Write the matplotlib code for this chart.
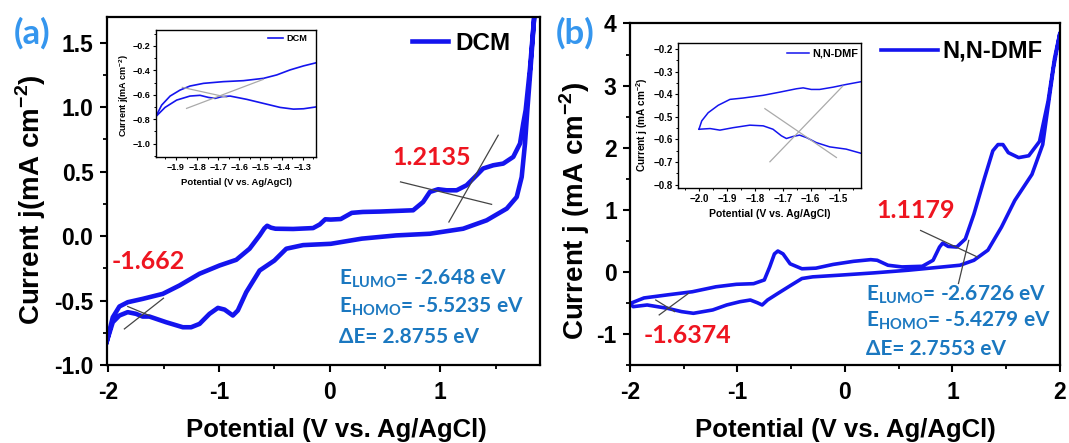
import matplotlib
matplotlib.use('Agg')
import matplotlib.pyplot as plt
from matplotlib.ticker import MultipleLocator

# ---- (a) DCM : anodic branch then cathodic branch ----
dcm_x_fwd = [-2.015, -1.96, -1.90, -1.825, -1.69, -1.508, -1.357, -1.176, -0.995, -0.844,
             -0.724, -0.633, -0.59, -0.565, -0.53, -0.49, -0.33, -0.15, -0.09, -0.04,
             0.01, 0.1, 0.2, 0.3, 0.452, 0.754, 0.844, 0.905, 0.98, 1.056,
             1.147, 1.237, 1.328, 1.387, 1.478, 1.568, 1.659, 1.72, 1.749, 1.771,
             1.81, 1.85]
dcm_j_fwd = [-0.82, -0.63, -0.546, -0.513, -0.487, -0.448, -0.383, -0.292, -0.228, -0.184,
             -0.098, 0.005, 0.06, 0.08, 0.065, 0.057, 0.055, 0.062, 0.09, 0.13,
             0.128, 0.132, 0.18, 0.187, 0.19, 0.2, 0.264, 0.342, 0.363, 0.355,
             0.355, 0.394, 0.472, 0.524, 0.549, 0.562, 0.614, 0.718, 0.873, 0.977,
             1.3, 1.72]
dcm_x_rev = [1.85, 1.815, 1.786, 1.765, 1.735, 1.69, 1.6, 1.418, 1.206, 0.905,
             0.6, 0.29, 0.01, -0.24, -0.392, -0.5, -0.633, -0.754, -0.83, -0.875,
             -0.95, -1.01, -1.086, -1.176, -1.252, -1.327, -1.478, -1.629, -1.69, -1.75,
             -1.825, -1.90, -1.96, -2.015]
dcm_j_rev = [1.72, 1.3, 0.977, 0.718, 0.458, 0.303, 0.213, 0.122, 0.057, 0.018,
             0.005, -0.02, -0.06, -0.07, -0.098, -0.19, -0.267, -0.435, -0.577, -0.616,
             -0.57, -0.557, -0.603, -0.681, -0.707, -0.707, -0.668, -0.624, -0.624, -0.603,
             -0.59, -0.616, -0.668, -0.82]
dcm_tangents = [([0.64, 1.463], [0.42, 0.246]), ([1.077, 1.523], [0.109, 0.782]),
                ([-1.855, -1.502], [-0.72, -0.482]), ([-1.825, -1.629], [-0.546, -0.616])]

# inset (a)
dcm_in_x_up = [-1.996, -1.968, -1.928, -1.881, -1.834, -1.77, -1.676, -1.581, -1.486, -1.423,
               -1.36, -1.296, -1.233]
dcm_in_j_up = [-0.78, -0.685, -0.611, -0.562, -0.529, -0.507, -0.493, -0.485, -0.466, -0.438,
               -0.397, -0.364, -0.337]
dcm_in_x_lo = [-1.996, -1.952, -1.897, -1.834, -1.786, -1.747, -1.715, -1.684, -1.644, -1.565,
               -1.486, -1.407, -1.344, -1.296, -1.233]
dcm_in_j_lo = [-0.78, -0.704, -0.644, -0.611, -0.605, -0.622, -0.63, -0.616, -0.611, -0.638,
               -0.671, -0.704, -0.718, -0.715, -0.699]
dcm_in_tangents = [([-1.85, -1.486], [-0.712, -0.474]), ([-1.87, -1.66], [-0.54, -0.62])]

# ---- (b) N,N-DMF ----
dmf_x_fwd = [-2.0, -1.87, -1.65, -1.42, -1.2, -1.01, -0.85, -0.75, -0.70, -0.656,
             -0.624, -0.576, -0.51, -0.4, -0.27, -0.11, 0.08, 0.24, 0.3, 0.4,
             0.53, 0.72, 0.82, 0.88, 0.91, 0.96, 1.04, 1.12, 1.2, 1.3,
             1.376, 1.424, 1.47, 1.52, 1.616, 1.71, 1.81, 1.89, 1.95, 2.0]
dmf_j_fwd = [-0.51, -0.42, -0.37, -0.32, -0.24, -0.2, -0.19, -0.13, 0.08, 0.29,
             0.336, 0.29, 0.13, 0.05, 0.06, 0.12, 0.17, 0.197, 0.187, 0.107,
             0.08, 0.09, 0.187, 0.4, 0.464, 0.41, 0.4, 0.53, 0.93, 1.52,
             1.95, 2.05, 2.05, 1.92, 1.84, 1.87, 2.1, 2.75, 3.44, 3.85]
dmf_x_rev = [2.0, 1.94, 1.84, 1.74, 1.58, 1.456, 1.33, 1.2, 1.07, 0.91,
             0.59, 0.27, -0.05, -0.3, -0.4, -0.5, -0.624, -0.72, -0.77, -0.816,
             -0.88, -0.976, -1.1, -1.23, -1.41, -1.52, -1.65, -1.84, -1.97, -2.0]
dmf_j_rev = [3.85, 3.28, 2.05, 1.57, 1.15, 0.72, 0.35, 0.187, 0.107, 0.08,
             0.027, -0.016, -0.053, -0.08, -0.107, -0.213, -0.347, -0.453, -0.533, -0.496,
             -0.453, -0.48, -0.533, -0.613, -0.667, -0.64, -0.587, -0.533, -0.56, -0.51]
dmf_tangents = [([0.704, 1.232], [0.667, 0.24]), ([1.056, 1.152], [-0.187, 0.507]),
                ([-1.76, -1.584], [-0.453, -0.64]), ([-1.728, -1.456], [-0.693, -0.347])]

# inset (b)
dmf_in_x_up = [-2.0, -1.99, -1.967, -1.931, -1.889, -1.842, -1.77, -1.711, -1.651, -1.627,
               -1.598, -1.568, -1.52, -1.473, -1.421]
dmf_in_j_up = [-0.555, -0.518, -0.482, -0.449, -0.423, -0.417, -0.405, -0.391, -0.376, -0.372,
               -0.379, -0.379, -0.369, -0.357, -0.345]
dmf_in_x_lo = [-2.0, -1.96, -1.925, -1.877, -1.818, -1.77, -1.735, -1.705, -1.687, -1.663,
               -1.64, -1.615, -1.58, -1.532, -1.473, -1.421]
dmf_in_j_lo = [-0.555, -0.552, -0.559, -0.548, -0.537, -0.54, -0.555, -0.584, -0.596, -0.587,
               -0.581, -0.592, -0.614, -0.633, -0.643, -0.661]
dmf_in_tangents = [([-1.764, -1.508], [-0.464, -0.68]), ([-1.746, -1.485], [-0.699, -0.364])]

LINE = '#1414EE'
RED = '#EE1520'
BLUE_TXT = '#1B78C0'
LABEL_BLUE = '#3596EE'

plt.rcParams['font.family'] = 'Liberation Sans'
plt.rcParams['font.weight'] = 'bold'
plt.rcParams['axes.labelweight'] = 'bold'
plt.rcParams['mathtext.fontset'] = 'custom'
plt.rcParams['mathtext.rm'] = 'Liberation Sans:bold'
plt.rcParams['mathtext.bf'] = 'Liberation Sans:bold'
plt.rcParams['mathtext.sf'] = 'Lato:bold'

fig = plt.figure(figsize=(10.69, 4.43), dpi=100)
ax_a = fig.add_axes([0.0998, 0.176, 0.4053, 0.786])
ax_b = fig.add_axes([0.5893, 0.176, 0.4022, 0.771])
in_a = fig.add_axes([0.1459, 0.6456, 0.1501, 0.2867])
in_b = fig.add_axes([0.6345, 0.5756, 0.1709, 0.3266])


def style_main(ax):
    for s in ax.spines.values():
        s.set_linewidth(1.6)
    ax.tick_params(which='major', direction='out', length=5, width=1.5, labelsize=16.5, pad=4.5)
    ax.tick_params(axis='x', which='major', pad=6.5)
    ax.tick_params(which='minor', direction='out', length=3, width=1.3)
    for lab in ax.get_xticklabels() + ax.get_yticklabels():
        lab.set_fontweight('bold')


def style_inset(ax, size):
    for s in ax.spines.values():
        s.set_linewidth(1.0)
    ax.tick_params(which='major', direction='out', length=2.5, width=0.8, pad=1.5, labelsize=size)
    ax.tick_params(which='minor', direction='out', length=1.5, width=0.7)
    for lab in ax.get_xticklabels() + ax.get_yticklabels():
        lab.set_fontweight('bold')


# ---------- panel (a) ----------
ax = ax_a
ax.plot(dcm_x_fwd + dcm_x_rev, dcm_j_fwd + dcm_j_rev, color=LINE, lw=3.3,
        solid_joinstyle='round', label='DCM')
for tx, ty in dcm_tangents:
    ax.plot(tx, ty, color='#444444', lw=0.9)
ax.set_xlim(-2.015, 1.9)
ax.set_ylim(-1.0, 1.7)
ax.xaxis.set_minor_locator(MultipleLocator(0.5))
ax.yaxis.set_minor_locator(MultipleLocator(0.25))
ax.set_yticks([-1.0, -0.5, 0.0, 0.5, 1.0, 1.5])
ax.set_yticklabels(['-1.0', '-0.5', '0.0', '0.5', '1.0', '1.5'])
ax.set_xticks([-2, -1, 0, 1])
ax.set_xticklabels(['-2', '-1', '0', '1'])
style_main(ax)
ax.set_xlabel('Potential (V vs. Ag/AgCl)', fontsize=18.5, va='center')
ax.xaxis.set_label_coords(0.53, -0.186)
ax.set_ylabel('Current j(mA cm$^{-2}$)', fontsize=20, va='center')
ax.yaxis.set_label_coords(-0.175, 0.476)
ax.legend(loc='center left', bbox_to_anchor=(0.704, 0.924), frameon=False,
          borderpad=0, borderaxespad=0, handlelength=1.49, handletextpad=0.3,
          prop={'family': 'Liberation Sans', 'weight': 'bold', 'size': 17.5})
ax.text(0.92, 0.606, '1.2135', color=RED, fontsize=18, family='Lato',
        weight='bold', ha='center', va='center')
ax.text(-1.635, -0.197, '-1.662', color=RED, fontsize=18, family='Lato',
        weight='bold', ha='center', va='center')
ax.text(0.084, -0.33, r'E$_{\mathsf{LUMO}}$= -2.648 eV', color=BLUE_TXT, fontsize=15,
        family=['Lato', 'DejaVu Sans'], weight='bold', va='center')
ax.text(0.084, -0.55, r'E$_{\mathsf{HOMO}}$= -5.5235 eV', color=BLUE_TXT, fontsize=15,
        family=['Lato', 'DejaVu Sans'], weight='bold', va='center')
ax.text(0.084, -0.78, '\u0394E= 2.8755 eV', color=BLUE_TXT, fontsize=15,
        family=['Lato', 'DejaVu Sans'], weight='bold', va='center')

# inset (a)
ax = in_a
ax.plot(dcm_in_x_up, dcm_in_j_up, color=LINE, lw=1.2, label='DCM')
ax.plot(dcm_in_x_lo, dcm_in_j_lo, color=LINE, lw=1.2)
for tx, ty in dcm_in_tangents:
    ax.plot(tx, ty, color='#AAAAAA', lw=0.9)
ax.set_xlim(-1.995, -1.235)
ax.set_ylim(-1.11, -0.07)
ax.set_xticks([-1.9, -1.8, -1.7, -1.6, -1.5, -1.4, -1.3])
ax.xaxis.set_minor_locator(MultipleLocator(0.05))
ax.set_yticks([-1.0, -0.8, -0.6, -0.4, -0.2])
ax.yaxis.set_minor_locator(MultipleLocator(0.1))
style_inset(ax, 6.5)
ax.set_xlabel('Potential (V vs. Ag/AgCl)', fontsize=6.8, va='center')
ax.xaxis.set_label_coords(0.5, -0.2)
ax.set_ylabel('Current j(mA cm$^{-2}$)', fontsize=6.5, va='center')
ax.yaxis.set_label_coords(-0.2, 0.48)
ax.legend(loc='center left', bbox_to_anchor=(0.698, 0.935), frameon=False,
          borderpad=0, borderaxespad=0, handlelength=1.63, handletextpad=0.33,
          prop={'family': 'Liberation Sans', 'weight': 'bold', 'size': 6.6})

# ---------- panel (b) ----------
ax = ax_b
ax.plot(dmf_x_fwd + dmf_x_rev, dmf_j_fwd + dmf_j_rev, color=LINE, lw=2.6,
        solid_joinstyle='round', label='N,N-DMF')
for tx, ty in dmf_tangents:
    ax.plot(tx, ty, color='#444444', lw=0.9)
ax.set_xlim(-2.0, 2.0)
ax.set_ylim(-1.5, 4.0)
ax.xaxis.set_minor_locator(MultipleLocator(0.5))
ax.yaxis.set_minor_locator(MultipleLocator(0.5))
ax.set_xticks([-2, -1, 0, 1, 2])
ax.set_xticklabels(['-2', '-1', '0', '1', '2'])
ax.set_yticks([-1, 0, 1, 2, 3, 4])
ax.set_yticklabels(['-1', '0', '1', '2', '3', '4'])
style_main(ax)
ax.set_xlabel('Potential (V vs. Ag/AgCl)', fontsize=18.5, va='center')
ax.xaxis.set_label_coords(0.5, -0.19)
ax.set_ylabel('Current j (mA cm$^{-2}$)', fontsize=20, va='center')
ax.yaxis.set_label_coords(-0.128, 0.45)
ax.legend(loc='center left', bbox_to_anchor=(0.585, 0.918), frameon=False,
          borderpad=0, borderaxespad=0, handlelength=2.4, handletextpad=0.2,
          prop={'family': 'Liberation Sans', 'weight': 'bold', 'size': 17})
ax.text(0.66, 0.995, '1.1179', color=RED, fontsize=18, family='Lato',
        weight='bold', ha='center', va='center')
ax.text(-1.467, -1.03, '-1.6374', color=RED, fontsize=18, family='Lato',
        weight='bold', ha='center', va='center')
ax.text(0.196, -0.363, r'E$_{\mathsf{LUMO}}$= -2.6726 eV', color=BLUE_TXT, fontsize=15,
        family=['Lato', 'DejaVu Sans'], weight='bold', va='center')
ax.text(0.196, -0.79, r'E$_{\mathsf{HOMO}}$= -5.4279 eV', color=BLUE_TXT, fontsize=15,
        family=['Lato', 'DejaVu Sans'], weight='bold', va='center')
ax.text(0.196, -1.24, '\u0394E= 2.7553 eV', color=BLUE_TXT, fontsize=15,
        family=['Lato', 'DejaVu Sans'], weight='bold', va='center')

# inset (b)
ax = in_b
ax.plot(dmf_in_x_up, dmf_in_j_up, color=LINE, lw=1.1, label='N,N-DMF')
ax.plot(dmf_in_x_lo, dmf_in_j_lo, color=LINE, lw=1.1)
for tx, ty in dmf_in_tangents:
    ax.plot(tx, ty, color='#AAAAAA', lw=0.9)
ax.set_xlim(-2.074, -1.42)
ax.set_ylim(-0.815, -0.175)
ax.set_xticks([-2.0, -1.9, -1.8, -1.7, -1.6, -1.5])
ax.xaxis.set_minor_locator(MultipleLocator(0.05))
ax.set_yticks([-0.8, -0.7, -0.6, -0.5, -0.4, -0.3, -0.2])
ax.yaxis.set_minor_locator(MultipleLocator(0.05))
style_inset(ax, 7.0)
ax.set_xlabel('Potential (V vs. Ag/AgCl)', fontsize=7.5, va='center')
ax.xaxis.set_label_coords(0.5, -0.18)
ax.set_ylabel('Current j (mA cm$^{-2}$)', fontsize=7.2, va='center')
ax.yaxis.set_label_coords(-0.2, 0.435)
ax.legend(loc='center left', bbox_to_anchor=(0.593, 0.931), frameon=False,
          borderpad=0, borderaxespad=0, handlelength=2.1, handletextpad=0.24,
          prop={'family': 'Liberation Sans', 'weight': 'bold', 'size': 7.8})

# panel letters
fig.text(0.0296, 0.925, '(a)', color=LABEL_BLUE, fontsize=25, family='Lato',
         weight='bold', ha='center', va='center')
fig.text(0.538, 0.925, '(b)', color=LABEL_BLUE, fontsize=25, family='Lato',
         weight='bold', ha='center', va='center')

fig.savefig('out.png', dpi=100)
